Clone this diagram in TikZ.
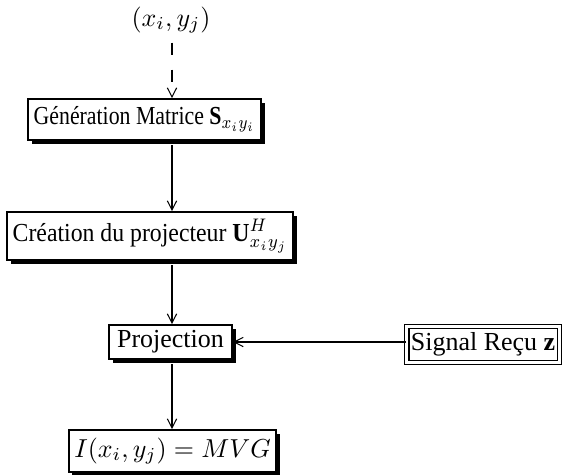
\documentclass[tikz,border=0pt]{standalone}
\usepackage{fontspec}
\setmainfont{Liberation Serif}
\usetikzlibrary{arrows.meta,shadows}
\begin{document}
\begin{tikzpicture}[x=0.385pt,y=-0.385pt,
  box/.style={draw=black,line width=0.75pt,fill=white,inner xsep=2.2pt,inner ysep=0pt,align=center,
    drop shadow={shadow xshift=1.4pt,shadow yshift=-1.4pt,fill=black,opacity=1}},
  dbox/.style={draw=black,line width=0.5pt,double=white,double distance=1.2pt,fill=white,inner xsep=1.6pt,inner ysep=0pt},
  conn/.style={line width=0.4pt,-{Straight Barb[length=3.5pt,width=3.6pt]}},
  dconn/.style={conn,dash pattern=on 4.6pt off 5.8pt}]
\useasboundingbox (0,0) rectangle (563,474);
\node (src) at (171,20) {$(x_i,y_j)$};
\node[box,anchor=west,minimum height=15.8pt] (gen) at (27,119.5) {\scalebox{0.84}[1]{Génération Matrice $\mathbf{S}_{x_iy_i}$}};
\node[box,anchor=west,minimum height=18.5pt] (cre) at (6,236) {\scalebox{0.915}[1]{Création du projecteur $\mathbf{U}^H_{x_iy_j}$}};
\node[box,minimum width=47.4pt,minimum height=13.1pt] (proj) at (170.5,342) {Projection};
\node[dbox,anchor=east,minimum height=13.8pt] (sig) at (560,344.5) {Signal Reçu $\mathbf{z}$};
\node[box,minimum height=16.2pt] (res) at (172.5,451) {$I(x_i,y_j)=MVG$};
\coordinate (ax) at (172,0);
\draw[dconn] (src.south -| ax) -- (gen.north -| ax);
\draw[conn] (gen.south -| ax) ++(0,4) -- (cre.north -| ax);
\draw[conn] (cre.south -| ax) ++(0,4) -- (proj.north -| ax);
\draw[conn] (proj.south -| ax) ++(0,4) -- (res.north -| ax);
\draw[conn] (sig.west |- proj.east) -- (proj.east);
\end{tikzpicture}
\end{document}
